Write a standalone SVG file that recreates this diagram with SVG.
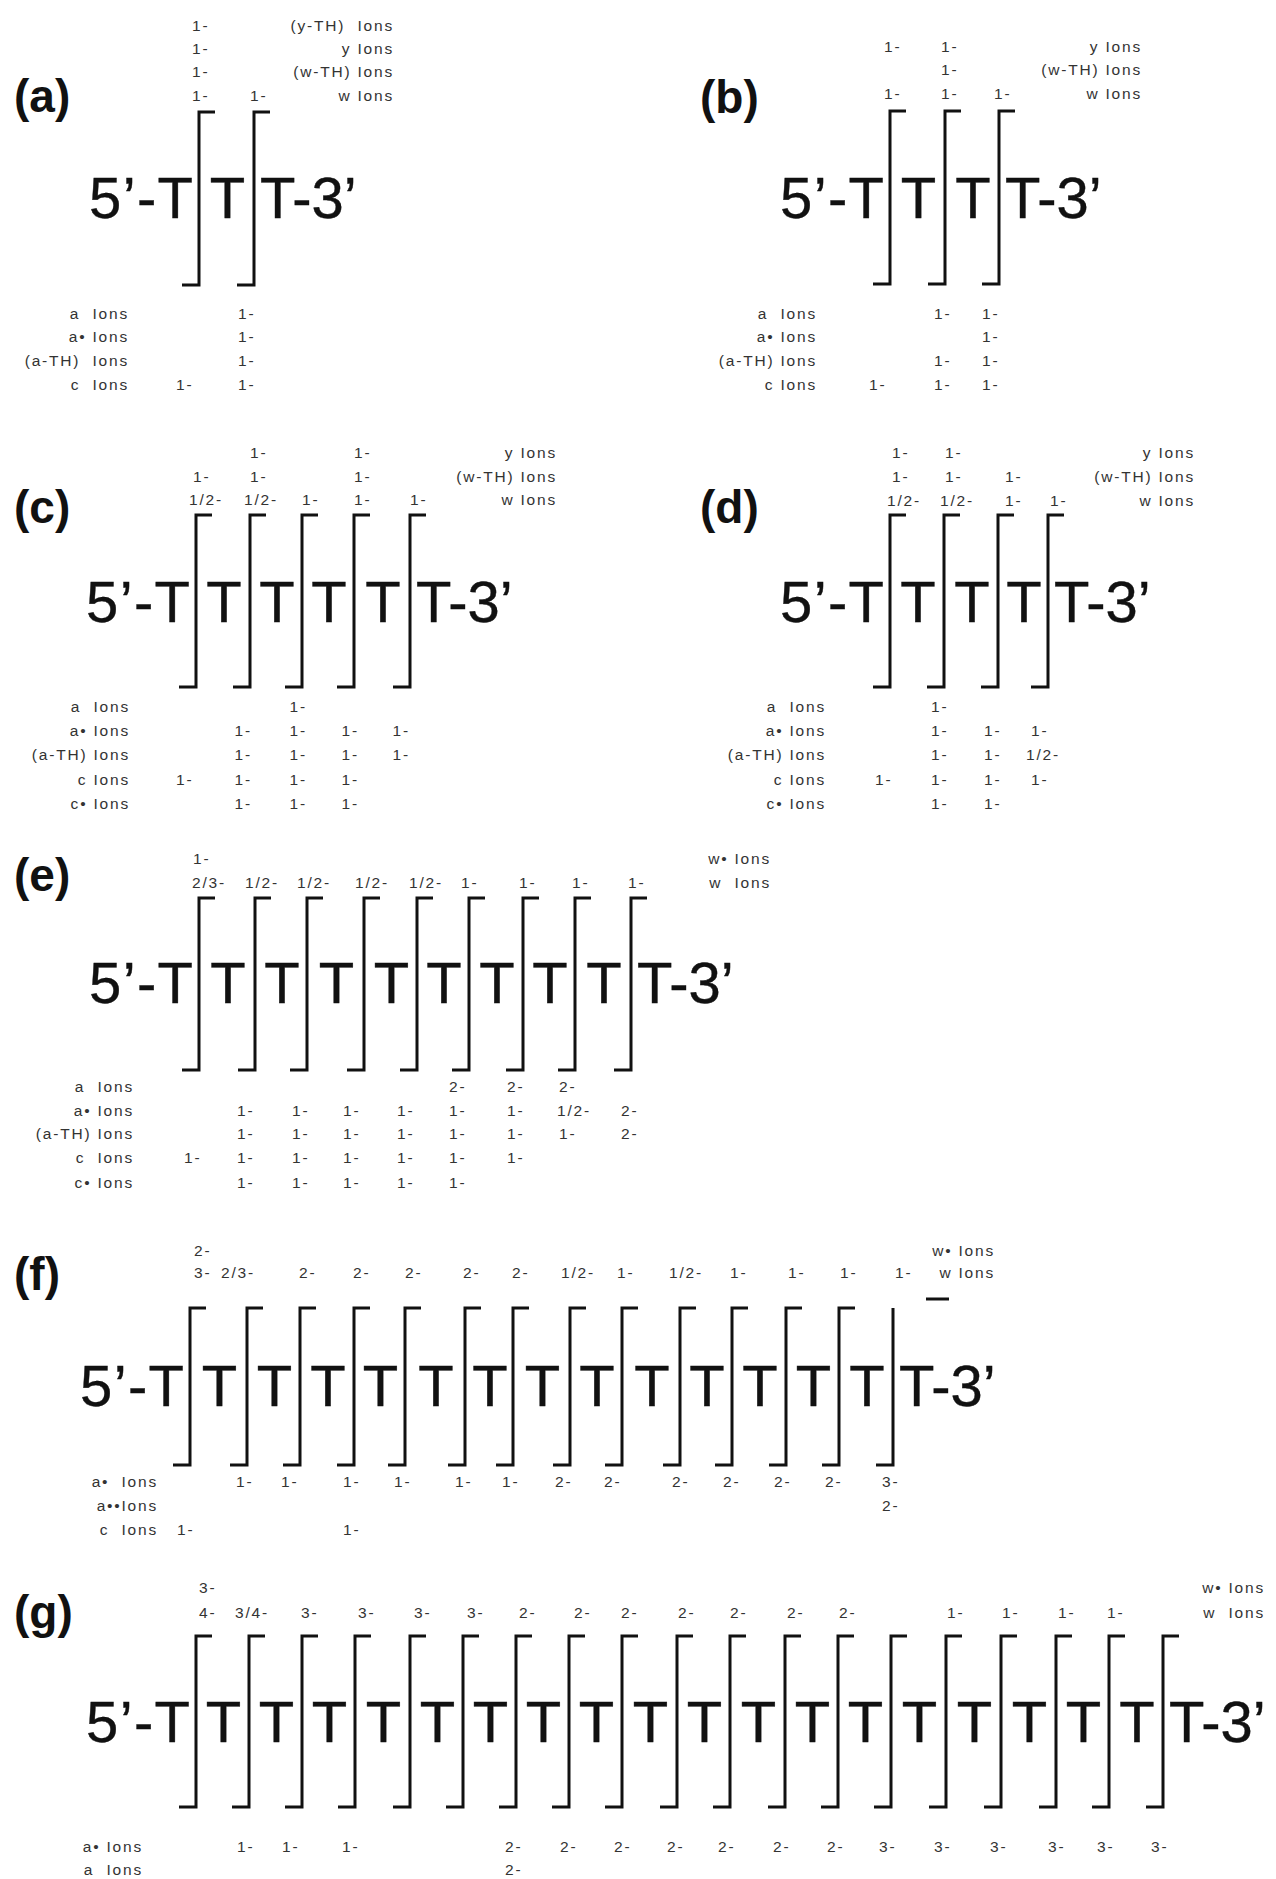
<svg xmlns="http://www.w3.org/2000/svg" width="1276" height="1879" viewBox="0 0 1276 1879">
<style>
.bg{fill:#fff}
.lab{font-family:"Liberation Sans",Arial,sans-serif;font-weight:bold;font-size:46px;fill:#111}
.seq{font-family:"Liberation Sans",Arial,sans-serif;font-size:58px;fill:#111;stroke:#111;stroke-width:0.4}
.m{text-anchor:middle}
.e{text-anchor:end}
.s{font-family:"Liberation Sans",Arial,sans-serif;font-size:15.5px;letter-spacing:1.8px;fill:#333;white-space:pre}
.br{fill:none;stroke:#111;stroke-width:3;stroke-linejoin:miter}
</style>
<rect class="bg" x="0" y="0" width="1276" height="1879"/>

<g id="panel-a">
<text class="lab" x="14" y="112">(a)</text>
<g id="a-top">
<text class="s" x="192" y="31">1-</text>
<text class="s" x="192" y="54">1-</text>
<text class="s" x="192" y="77">1-</text>
<text class="s" x="192" y="101">1-</text>
<text class="s" x="250" y="101">1-</text>
<text class="s e" x="394" y="31">(y-TH)  Ions</text>
<text class="s e" x="394" y="54">y Ions</text>
<text class="s e" x="394" y="77">(w-TH) Ions</text>
<text class="s e" x="394" y="101">w Ions</text>
</g>
<g id="a-seq">
<text class="seq" x="89" y="218" textLength="104" lengthAdjust="spacing">5’-T</text>
<text class="seq m" x="227.5" y="218">T</text>
<text class="seq" x="260" y="218">T-3’</text>
</g>
<g id="a-bottom">
<text class="s e" x="129" y="319">a  Ions</text>
<text class="s e" x="129" y="342">a• Ions</text>
<text class="s e" x="129" y="366">(a-TH)  Ions</text>
<text class="s e" x="129" y="390">c  Ions</text>
<text class="s" x="238" y="319">1-</text>
<text class="s" x="238" y="342">1-</text>
<text class="s" x="238" y="366">1-</text>
<text class="s" x="176" y="390">1-</text>
<text class="s" x="238" y="390">1-</text>
</g>
</g>

<g id="panel-b">
<text class="lab" x="700" y="113">(b)</text>
<g id="b-top">
<text class="s" x="884" y="52">1-</text>
<text class="s" x="941" y="52">1-</text>
<text class="s" x="941" y="75">1-</text>
<text class="s" x="884" y="99">1-</text>
<text class="s" x="941" y="99">1-</text>
<text class="s" x="994" y="99">1-</text>
<text class="s e" x="1142" y="52">y Ions</text>
<text class="s e" x="1142" y="75">(w-TH) Ions</text>
<text class="s e" x="1142" y="99">w Ions</text>
</g>
<g id="b-seq">
<text class="seq" x="780" y="218" textLength="104" lengthAdjust="spacing">5’-T</text>
<text class="seq m" x="918.5" y="218">T</text>
<text class="seq m" x="973" y="218">T</text>
<text class="seq" x="1005" y="218">T-3’</text>
</g>
<g id="b-bottom">
<text class="s e" x="817" y="319">a  Ions</text>
<text class="s e" x="817" y="342">a• Ions</text>
<text class="s e" x="817" y="366">(a-TH) Ions</text>
<text class="s e" x="817" y="390">c Ions</text>
<text class="s" x="934" y="319">1-</text>
<text class="s" x="982" y="319">1-</text>
<text class="s" x="982" y="342">1-</text>
<text class="s" x="934" y="366">1-</text>
<text class="s" x="982" y="366">1-</text>
<text class="s" x="869" y="390">1-</text>
<text class="s" x="934" y="390">1-</text>
<text class="s" x="982" y="390">1-</text>
</g>
</g>

<g id="panel-c">
<text class="lab" x="14" y="523">(c)</text>
<g id="c-top">
<text class="s" x="250" y="458">1-</text>
<text class="s" x="354" y="458">1-</text>
<text class="s" x="193" y="482">1-</text>
<text class="s" x="250" y="482">1-</text>
<text class="s" x="354" y="482">1-</text>
<text class="s" x="189" y="505">1/2-</text>
<text class="s" x="244" y="505">1/2-</text>
<text class="s" x="302" y="505">1-</text>
<text class="s" x="354" y="505">1-</text>
<text class="s" x="410" y="505">1-</text>
<text class="s e" x="557" y="458">y Ions</text>
<text class="s e" x="557" y="482">(w-TH) Ions</text>
<text class="s e" x="557" y="505">w Ions</text>
</g>
<g id="c-seq">
<text class="seq" x="86" y="622" textLength="104" lengthAdjust="spacing">5’-T</text>
<text class="seq m" x="224" y="622">T</text>
<text class="seq m" x="277" y="622">T</text>
<text class="seq m" x="329" y="622">T</text>
<text class="seq m" x="383" y="622">T</text>
<text class="seq" x="416" y="622">T-3’</text>
</g>
<g id="c-bottom">
<text class="s e" x="130" y="712">a  Ions</text>
<text class="s e" x="130" y="736">a• Ions</text>
<text class="s e" x="130" y="760">(a-TH) Ions</text>
<text class="s e" x="130" y="785">c Ions</text>
<text class="s e" x="130" y="809">c• Ions</text>
<text class="s" x="289.5" y="712">1-</text>
<text class="s" x="234.5" y="736">1-</text>
<text class="s" x="289.5" y="736">1-</text>
<text class="s" x="341.5" y="736">1-</text>
<text class="s" x="392.5" y="736">1-</text>
<text class="s" x="234.5" y="760">1-</text>
<text class="s" x="289.5" y="760">1-</text>
<text class="s" x="341.5" y="760">1-</text>
<text class="s" x="392.5" y="760">1-</text>
<text class="s" x="176" y="785">1-</text>
<text class="s" x="234.5" y="785">1-</text>
<text class="s" x="289.5" y="785">1-</text>
<text class="s" x="341.5" y="785">1-</text>
<text class="s" x="234.5" y="809">1-</text>
<text class="s" x="289.5" y="809">1-</text>
<text class="s" x="341.5" y="809">1-</text>
</g>
</g>

<g id="panel-d">
<text class="lab" x="700" y="523">(d)</text>
<g id="d-top">
<text class="s" x="892" y="458">1-</text>
<text class="s" x="945" y="458">1-</text>
<text class="s" x="892" y="482">1-</text>
<text class="s" x="945" y="482">1-</text>
<text class="s" x="1005" y="482">1-</text>
<text class="s" x="887" y="506">1/2-</text>
<text class="s" x="940" y="506">1/2-</text>
<text class="s" x="1005" y="506">1-</text>
<text class="s" x="1050" y="506">1-</text>
<text class="s e" x="1195" y="458">y Ions</text>
<text class="s e" x="1195" y="482">(w-TH) Ions</text>
<text class="s e" x="1195" y="506">w Ions</text>
</g>
<g id="d-seq">
<text class="seq" x="780" y="622" textLength="104" lengthAdjust="spacing">5’-T</text>
<text class="seq m" x="918" y="622">T</text>
<text class="seq m" x="972" y="622">T</text>
<text class="seq m" x="1024" y="622">T</text>
<text class="seq" x="1054" y="622">T-3’</text>
</g>
<g id="d-bottom">
<text class="s e" x="826" y="712">a  Ions</text>
<text class="s e" x="826" y="736">a• Ions</text>
<text class="s e" x="826" y="760">(a-TH) Ions</text>
<text class="s e" x="826" y="785">c Ions</text>
<text class="s e" x="826" y="809">c• Ions</text>
<text class="s" x="931" y="712">1-</text>
<text class="s" x="931" y="736">1-</text>
<text class="s" x="984" y="736">1-</text>
<text class="s" x="1031" y="736">1-</text>
<text class="s" x="931" y="760">1-</text>
<text class="s" x="984" y="760">1-</text>
<text class="s" x="1026" y="760">1/2-</text>
<text class="s" x="875" y="785">1-</text>
<text class="s" x="931" y="785">1-</text>
<text class="s" x="984" y="785">1-</text>
<text class="s" x="1031" y="785">1-</text>
<text class="s" x="931" y="809">1-</text>
<text class="s" x="984" y="809">1-</text>
</g>
</g>

<g id="panel-e">
<text class="lab" x="14" y="891">(e)</text>
<g id="e-top">
<text class="s" x="193" y="864">1-</text>
<text class="s" x="192" y="888">2/3-</text>
<text class="s" x="245" y="888">1/2-</text>
<text class="s" x="297" y="888">1/2-</text>
<text class="s" x="355" y="888">1/2-</text>
<text class="s" x="409" y="888">1/2-</text>
<text class="s" x="461" y="888">1-</text>
<text class="s" x="519" y="888">1-</text>
<text class="s" x="572" y="888">1-</text>
<text class="s" x="628" y="888">1-</text>
<text class="s e" x="771" y="864">w• Ions</text>
<text class="s e" x="771" y="888">w  Ions</text>
</g>
<g id="e-seq">
<text class="seq" x="89" y="1003" textLength="104" lengthAdjust="spacing">5’-T</text>
<text class="seq m" x="228" y="1003">T</text>
<text class="seq m" x="282" y="1003">T</text>
<text class="seq m" x="336.5" y="1003">T</text>
<text class="seq m" x="391.5" y="1003">T</text>
<text class="seq m" x="444" y="1003">T</text>
<text class="seq m" x="497" y="1003">T</text>
<text class="seq m" x="550" y="1003">T</text>
<text class="seq m" x="604" y="1003">T</text>
<text class="seq" x="637" y="1003">T-3’</text>
</g>
<g id="e-bottom">
<text class="s e" x="134" y="1092">a  Ions</text>
<text class="s e" x="134" y="1116">a• Ions</text>
<text class="s e" x="134" y="1139">(a-TH) Ions</text>
<text class="s e" x="134" y="1163">c  Ions</text>
<text class="s e" x="134" y="1188">c• Ions</text>
<text class="s" x="449" y="1092">2-</text>
<text class="s" x="507" y="1092">2-</text>
<text class="s" x="559" y="1092">2-</text>
<text class="s" x="237" y="1116">1-</text>
<text class="s" x="292" y="1116">1-</text>
<text class="s" x="343" y="1116">1-</text>
<text class="s" x="397" y="1116">1-</text>
<text class="s" x="449" y="1116">1-</text>
<text class="s" x="507" y="1116">1-</text>
<text class="s" x="557" y="1116">1/2-</text>
<text class="s" x="621" y="1116">2-</text>
<text class="s" x="237" y="1139">1-</text>
<text class="s" x="292" y="1139">1-</text>
<text class="s" x="343" y="1139">1-</text>
<text class="s" x="397" y="1139">1-</text>
<text class="s" x="449" y="1139">1-</text>
<text class="s" x="507" y="1139">1-</text>
<text class="s" x="559" y="1139">1-</text>
<text class="s" x="621" y="1139">2-</text>
<text class="s" x="184" y="1163">1-</text>
<text class="s" x="237" y="1163">1-</text>
<text class="s" x="292" y="1163">1-</text>
<text class="s" x="343" y="1163">1-</text>
<text class="s" x="397" y="1163">1-</text>
<text class="s" x="449" y="1163">1-</text>
<text class="s" x="507" y="1163">1-</text>
<text class="s" x="237" y="1188">1-</text>
<text class="s" x="292" y="1188">1-</text>
<text class="s" x="343" y="1188">1-</text>
<text class="s" x="397" y="1188">1-</text>
<text class="s" x="449" y="1188">1-</text>
</g>
</g>

<g id="panel-f">
<text class="lab" x="14" y="1290">(f)</text>
<g id="f-top">
<text class="s" x="194" y="1256">2-</text>
<text class="s" x="194" y="1278">3-</text>
<text class="s" x="221" y="1278">2/3-</text>
<text class="s" x="299" y="1278">2-</text>
<text class="s" x="353" y="1278">2-</text>
<text class="s" x="405" y="1278">2-</text>
<text class="s" x="463" y="1278">2-</text>
<text class="s" x="512" y="1278">2-</text>
<text class="s" x="561" y="1278">1/2-</text>
<text class="s" x="617" y="1278">1-</text>
<text class="s" x="669" y="1278">1/2-</text>
<text class="s" x="730" y="1278">1-</text>
<text class="s" x="788" y="1278">1-</text>
<text class="s" x="840" y="1278">1-</text>
<text class="s" x="895" y="1278">1-</text>
<text class="s e" x="995" y="1256">w• Ions</text>
<text class="s e" x="995" y="1278">w Ions</text>
</g>
<g id="f-seq">
<text class="seq" x="80" y="1406" textLength="104" lengthAdjust="spacing">5’-T</text>
<text class="seq m" x="219.5" y="1406">T</text>
<text class="seq m" x="274.5" y="1406">T</text>
<text class="seq m" x="328" y="1406">T</text>
<text class="seq m" x="380.5" y="1406">T</text>
<text class="seq m" x="436" y="1406">T</text>
<text class="seq m" x="490" y="1406">T</text>
<text class="seq m" x="542.5" y="1406">T</text>
<text class="seq m" x="597" y="1406">T</text>
<text class="seq m" x="652" y="1406">T</text>
<text class="seq m" x="707" y="1406">T</text>
<text class="seq m" x="760" y="1406">T</text>
<text class="seq m" x="813.5" y="1406">T</text>
<text class="seq m" x="867" y="1406">T</text>
<text class="seq" x="899" y="1406">T-3’</text>
</g>
<g id="f-bottom">
<text class="s e" x="158" y="1487">a•  Ions</text>
<text class="s e" x="158" y="1511">a••Ions</text>
<text class="s e" x="158" y="1535">c  Ions</text>
<text class="s" x="236" y="1487">1-</text>
<text class="s" x="281" y="1487">1-</text>
<text class="s" x="343" y="1487">1-</text>
<text class="s" x="394" y="1487">1-</text>
<text class="s" x="455" y="1487">1-</text>
<text class="s" x="502" y="1487">1-</text>
<text class="s" x="555" y="1487">2-</text>
<text class="s" x="604" y="1487">2-</text>
<text class="s" x="672" y="1487">2-</text>
<text class="s" x="723" y="1487">2-</text>
<text class="s" x="774" y="1487">2-</text>
<text class="s" x="825" y="1487">2-</text>
<text class="s" x="882" y="1487">3-</text>
<text class="s" x="882" y="1511">2-</text>
<text class="s" x="177" y="1535">1-</text>
<text class="s" x="343" y="1535">1-</text>
</g>
</g>

<g id="panel-g">
<text class="lab" x="14" y="1628">(g)</text>
<g id="g-top">
<text class="s" x="199" y="1593">3-</text>
<text class="s" x="199" y="1618">4-</text>
<text class="s" x="235" y="1618">3/4-</text>
<text class="s" x="301" y="1618">3-</text>
<text class="s" x="358" y="1618">3-</text>
<text class="s" x="414" y="1618">3-</text>
<text class="s" x="467" y="1618">3-</text>
<text class="s" x="519" y="1618">2-</text>
<text class="s" x="574" y="1618">2-</text>
<text class="s" x="621" y="1618">2-</text>
<text class="s" x="678" y="1618">2-</text>
<text class="s" x="730" y="1618">2-</text>
<text class="s" x="787" y="1618">2-</text>
<text class="s" x="839" y="1618">2-</text>
<text class="s" x="947" y="1618">1-</text>
<text class="s" x="1002" y="1618">1-</text>
<text class="s" x="1058" y="1618">1-</text>
<text class="s" x="1107" y="1618">1-</text>
<text class="s e" x="1265" y="1593">w• Ions</text>
<text class="s e" x="1265" y="1618">w  Ions</text>
</g>
<g id="g-seq">
<text class="seq" x="86" y="1742" textLength="104" lengthAdjust="spacing">5’-T</text>
<text class="seq m" x="223.5" y="1742">T</text>
<text class="seq m" x="276.5" y="1742">T</text>
<text class="seq m" x="329.5" y="1742">T</text>
<text class="seq m" x="383.5" y="1742">T</text>
<text class="seq m" x="437.5" y="1742">T</text>
<text class="seq m" x="490.5" y="1742">T</text>
<text class="seq m" x="543.5" y="1742">T</text>
<text class="seq m" x="596.5" y="1742">T</text>
<text class="seq m" x="650.5" y="1742">T</text>
<text class="seq m" x="704.5" y="1742">T</text>
<text class="seq m" x="758.5" y="1742">T</text>
<text class="seq m" x="812.5" y="1742">T</text>
<text class="seq m" x="865.5" y="1742">T</text>
<text class="seq m" x="919.5" y="1742">T</text>
<text class="seq m" x="974.5" y="1742">T</text>
<text class="seq m" x="1029.5" y="1742">T</text>
<text class="seq m" x="1083.5" y="1742">T</text>
<text class="seq m" x="1137" y="1742">T</text>
<text class="seq" x="1169" y="1742">T-3’</text>
</g>
<g id="g-bottom">
<text class="s e" x="143" y="1852">a• Ions</text>
<text class="s e" x="143" y="1875">a  Ions</text>
<text class="s" x="237" y="1852">1-</text>
<text class="s" x="282" y="1852">1-</text>
<text class="s" x="342" y="1852">1-</text>
<text class="s" x="505" y="1852">2-</text>
<text class="s" x="560" y="1852">2-</text>
<text class="s" x="614" y="1852">2-</text>
<text class="s" x="667" y="1852">2-</text>
<text class="s" x="718" y="1852">2-</text>
<text class="s" x="773" y="1852">2-</text>
<text class="s" x="827" y="1852">2-</text>
<text class="s" x="879" y="1852">3-</text>
<text class="s" x="934" y="1852">3-</text>
<text class="s" x="990" y="1852">3-</text>
<text class="s" x="1048" y="1852">3-</text>
<text class="s" x="1097" y="1852">3-</text>
<text class="s" x="1151" y="1852">3-</text>
<text class="s" x="505" y="1875">2-</text>
</g>
</g>

<g id="connectors">
<g id="a-brackets">
<path class="br" d="M215,112H199V285H182"/>
<path class="br" d="M270,112H254V285H237"/>
</g>
<g id="b-brackets">
<path class="br" d="M906,111H890V284H873"/>
<path class="br" d="M961,111H945V284H928"/>
<path class="br" d="M1015,111H999V284H982"/>
</g>
<g id="c-brackets">
<path class="br" d="M212,515H196V687H179"/>
<path class="br" d="M266,515H250V687H233"/>
<path class="br" d="M318,515H302V687H285"/>
<path class="br" d="M370,515H354V687H337"/>
<path class="br" d="M426,515H410V687H393"/>
</g>
<g id="d-brackets">
<path class="br" d="M906,515H890V687H873"/>
<path class="br" d="M960,515H944V687H927"/>
<path class="br" d="M1014,515H998V687H981"/>
<path class="br" d="M1064,515H1048V687H1031"/>
</g>
<g id="e-brackets">
<path class="br" d="M215,898H199V1070H182"/>
<path class="br" d="M271,898H255V1070H238"/>
<path class="br" d="M323,898H307V1070H290"/>
<path class="br" d="M380,898H364V1070H347"/>
<path class="br" d="M433,898H417V1070H400"/>
<path class="br" d="M485,898H469V1070H452"/>
<path class="br" d="M539,898H523V1070H506"/>
<path class="br" d="M591,898H575V1070H558"/>
<path class="br" d="M647,898H631V1070H614"/>
</g>
<g id="f-brackets">
<path class="br" d="M206,1308H190V1465H173"/>
<path class="br" d="M263,1308H247V1465H230"/>
<path class="br" d="M316,1308H300V1465H283"/>
<path class="br" d="M370,1308H354V1465H337"/>
<path class="br" d="M421,1308H405V1465H388"/>
<path class="br" d="M481,1308H465V1465H448"/>
<path class="br" d="M529,1308H513V1465H496"/>
<path class="br" d="M586,1308H570V1465H553"/>
<path class="br" d="M638,1308H622V1465H605"/>
<path class="br" d="M696,1308H680V1465H663"/>
<path class="br" d="M748,1308H732V1465H715"/>
<path class="br" d="M802,1308H786V1465H769"/>
<path class="br" d="M855,1308H839V1465H822"/>
<path class="br" d="M893,1308V1465H876"/>
<path class="br" d="M926,1299H949"/>
</g>
<g id="g-brackets">
<path class="br" d="M212,1636H196V1807H179"/>
<path class="br" d="M265,1636H249V1807H232"/>
<path class="br" d="M318,1636H302V1807H285"/>
<path class="br" d="M371,1636H355V1807H338"/>
<path class="br" d="M426,1636H410V1807H393"/>
<path class="br" d="M479,1636H463V1807H446"/>
<path class="br" d="M532,1636H516V1807H499"/>
<path class="br" d="M585,1636H569V1807H552"/>
<path class="br" d="M638,1636H622V1807H605"/>
<path class="br" d="M693,1636H677V1807H660"/>
<path class="br" d="M746,1636H730V1807H713"/>
<path class="br" d="M801,1636H785V1807H768"/>
<path class="br" d="M854,1636H838V1807H821"/>
<path class="br" d="M907,1636H891V1807H874"/>
<path class="br" d="M962,1636H946V1807H929"/>
<path class="br" d="M1017,1636H1001V1807H984"/>
<path class="br" d="M1072,1636H1056V1807H1039"/>
<path class="br" d="M1125,1636H1109V1807H1092"/>
<path class="br" d="M1179,1636H1163V1807H1146"/>
</g>
</g>
</svg>
